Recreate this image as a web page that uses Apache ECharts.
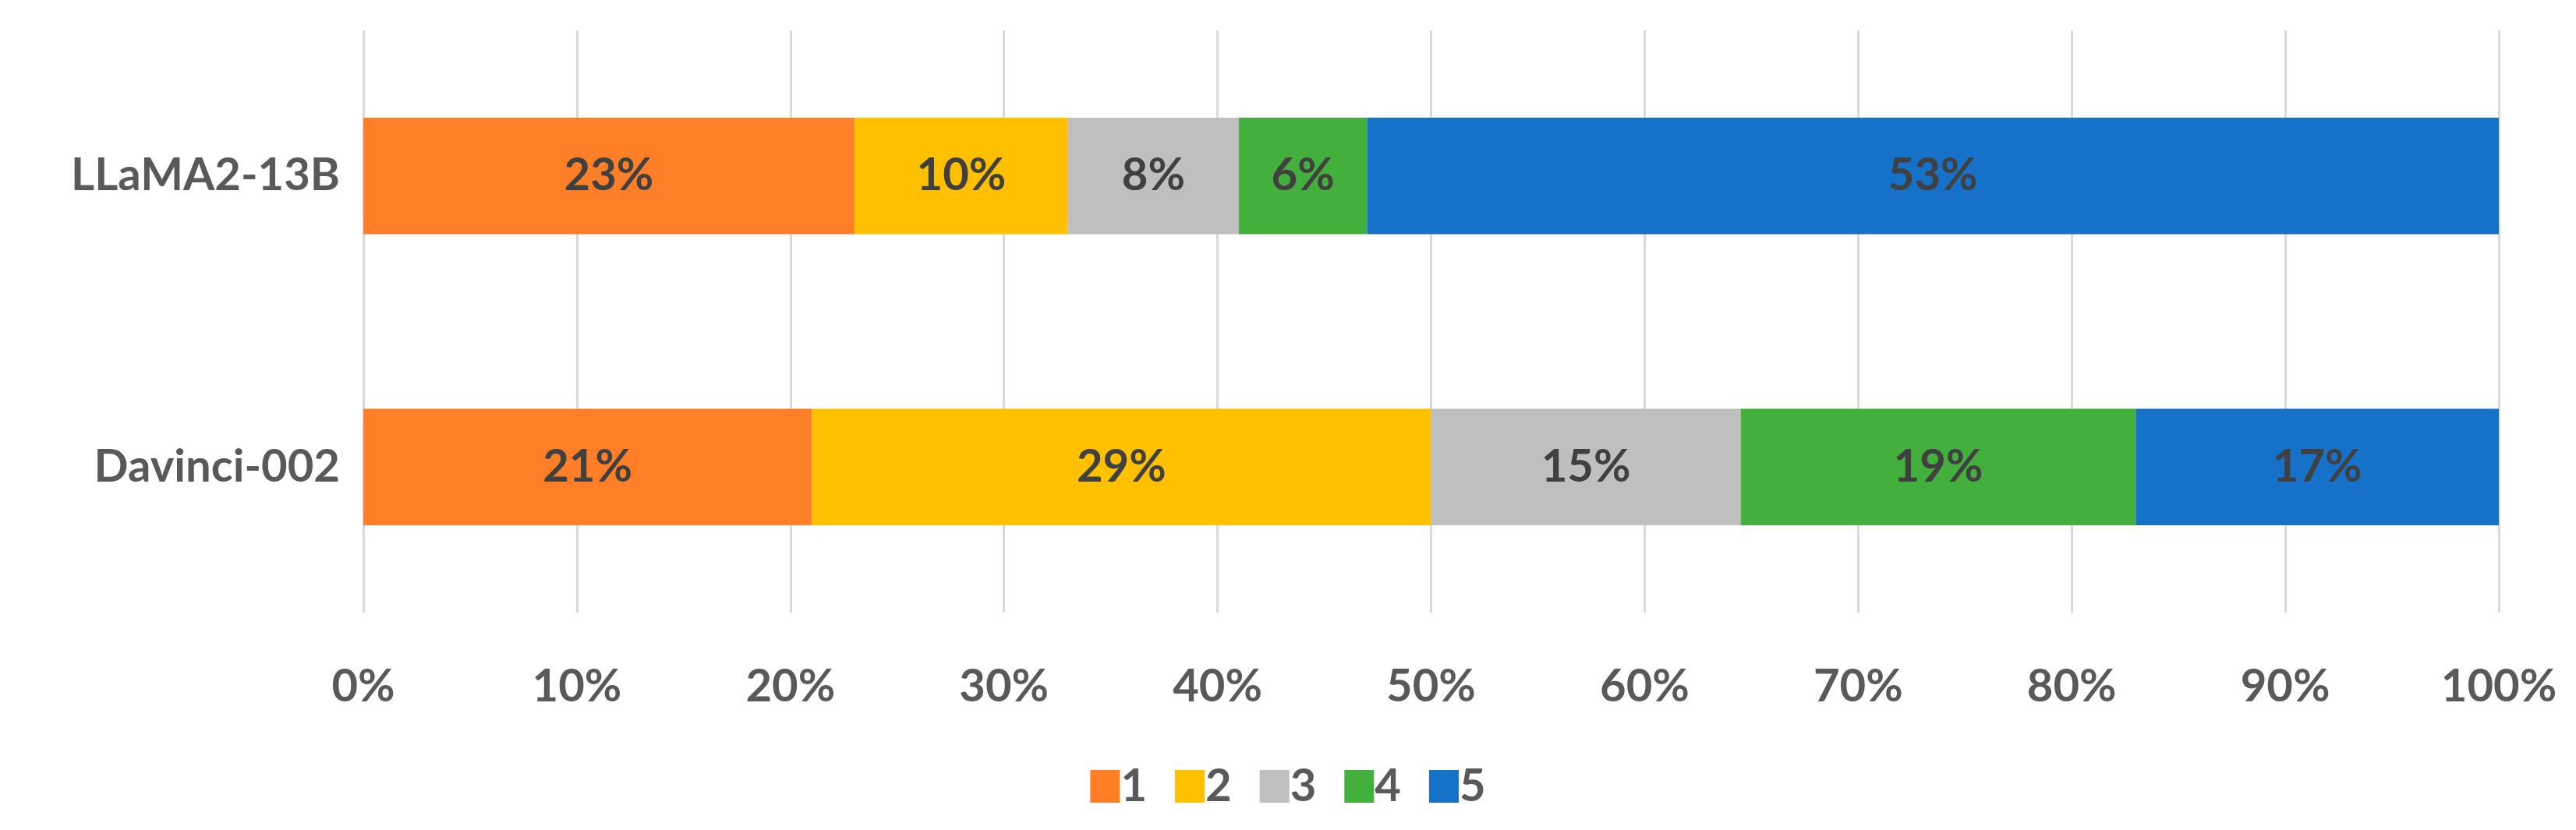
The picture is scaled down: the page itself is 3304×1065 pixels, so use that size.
<!DOCTYPE html>
<html><head><meta charset="utf-8">
<script src="https://cdn.jsdelivr.net/npm/echarts@6/dist/echarts.min.js"></script>
<style>html,body{margin:0;padding:0;background:#fff}#c{width:3304px;height:1065px}</style>
</head><body><div id="c"></div>
<script>
const categories = ['Davinci-002', 'LLaMA2-13B'];
const seriesNames = ['1', '2', '3', '4', '5'];
const values1 = [21, 23];
const values2 = [29, 10];
const values3 = [14.5, 8];
const values4 = [18.5, 6];
const values5 = [17, 53];
const colors = ['#FE7F27', '#FFC000', '#BFBFBF', '#43AF3C', '#1672C9'];
const allValues = [values1, values2, values3, values4, values5];
const font = 'Lato';
const chart = echarts.init(document.getElementById('c'));
chart.setOption({
  animation: false,
  grid: {left: 466, right: 99, top: 39, bottom: 279},
  legend: {
    bottom: 22, left: 'center', itemWidth: 38, itemHeight: 42, itemGap: 36,
    icon: 'rect',
    textStyle: {fontFamily: font, fontWeight: 'bold', fontSize: 58, color: '#595959', padding: [0,0,0,-4]},
    data: seriesNames
  },
  xAxis: {
    type: 'value', min: 0, max: 100, interval: 10,
    axisLine: {show: false}, axisTick: {show: false},
    splitLine: {lineStyle: {color: '#D9D9D9', width: 3}},
    axisLabel: {formatter: '{value}%', margin: 66, fontFamily: font, fontWeight: 'bold', fontSize: 58, color: '#595959'}
  },
  yAxis: {
    type: 'category', data: categories,
    axisLine: {show: false}, axisTick: {show: false},
    axisLabel: {margin: 30, fontFamily: font, fontWeight: 'bold', fontSize: 58, color: '#595959'}
  },
  series: allValues.map((v, i) => ({
    name: seriesNames[i], type: 'bar', stack: 'all', data: v, barWidth: '40%',
    itemStyle: {color: colors[i]},
    label: {show: true, position: 'inside', formatter: p => Math.round(p.value) + '%',
      fontFamily: font, fontWeight: 'bold', fontSize: 58, color: '#404040'}
  }))
});
</script></body></html>
